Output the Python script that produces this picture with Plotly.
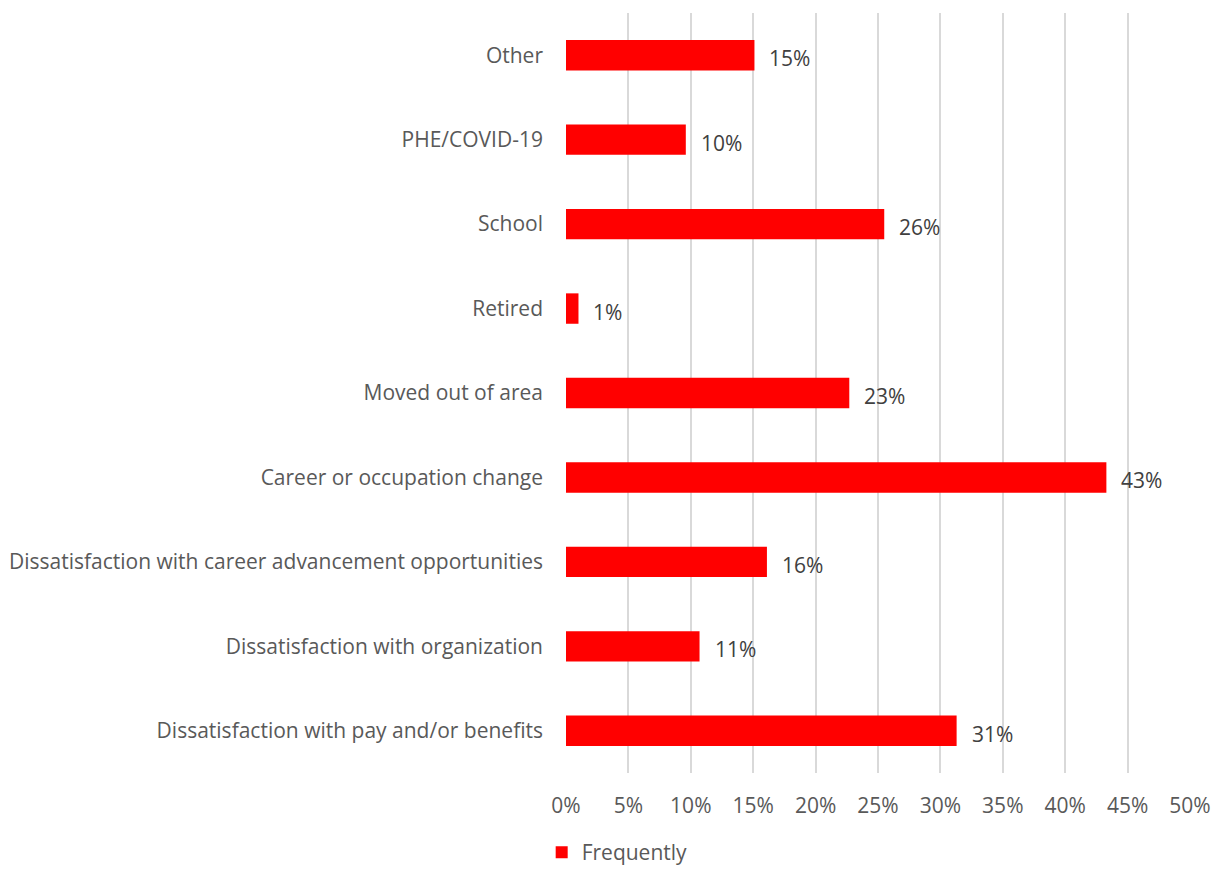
import plotly.graph_objects as go

# Reasons for leaving, bottom to top as drawn on the category axis
reasons = [
    "Dissatisfaction with pay and/or benefits",
    "Dissatisfaction with organization",
    "Dissatisfaction with career advancement opportunities",
    "Career or occupation change",
    "Moved out of area",
    "Retired",
    "School",
    "PHE/COVID-19",
    "Other",
]
frequently = [0.313, 0.107, 0.161, 0.433, 0.227, 0.010, 0.255, 0.096, 0.151]

x_ticks = [i / 100 for i in range(0, 51, 5)]
x_tick_labels = [f"{i}%" for i in range(0, 51, 5)]

FONT = "'Open Sans', Lato, sans-serif"
TEXT_GREY = "#595959"
SIZE = 21

fig = go.Figure()
fig.add_trace(
    go.Bar(
        y=reasons,
        x=frequently,
        orientation="h",
        name="Frequently",
        marker=dict(color="#ff0000", line=dict(width=0)),
        width=0.36,
        hoverinfo="x+y",
    )
)

# Value labels placed just past the end of each bar
for r, v in zip(reasons, frequently):
    fig.add_annotation(
        x=v,
        y=r,
        xref="x",
        yref="y",
        text=f"{int(v * 100 + 0.5)}%",
        showarrow=False,
        xanchor="left",
        xshift=13,
        yshift=-3,
        font=dict(family=FONT, size=SIZE, color="#404040"),
    )

fig.update_layout(
    width=1220,
    height=869,
    paper_bgcolor="white",
    plot_bgcolor="white",
    margin=dict(l=566, r=30, t=13, b=96, autoexpand=False),
    bargap=0.64,
    font=dict(family=FONT, size=SIZE, color=TEXT_GREY),
    showlegend=True,
    legend=dict(
        orientation="h",
        xref="container",
        yref="container",
        x=0.444,
        xanchor="left",
        y=0.019,
        yanchor="middle",
        font=dict(family=FONT, size=SIZE, color=TEXT_GREY),
        itemwidth=30,
    ),
)

fig.update_xaxes(
    range=[0, 0.5],
    tickvals=x_ticks,
    ticktext=x_tick_labels,
    showgrid=True,
    gridcolor="#d9d9d9",
    gridwidth=2,
    zeroline=False,
    showline=False,
    ticks="",
    ticklabelstandoff=18,
    tickfont=dict(family=FONT, size=SIZE, color=TEXT_GREY),
)

fig.update_yaxes(
    categoryorder="array",
    categoryarray=reasons,
    showgrid=False,
    zeroline=False,
    showline=False,
    ticks="",
    ticklabelstandoff=22,
    tickfont=dict(family=FONT, size=SIZE, color=TEXT_GREY),
)

fig.write_html("out.html")
